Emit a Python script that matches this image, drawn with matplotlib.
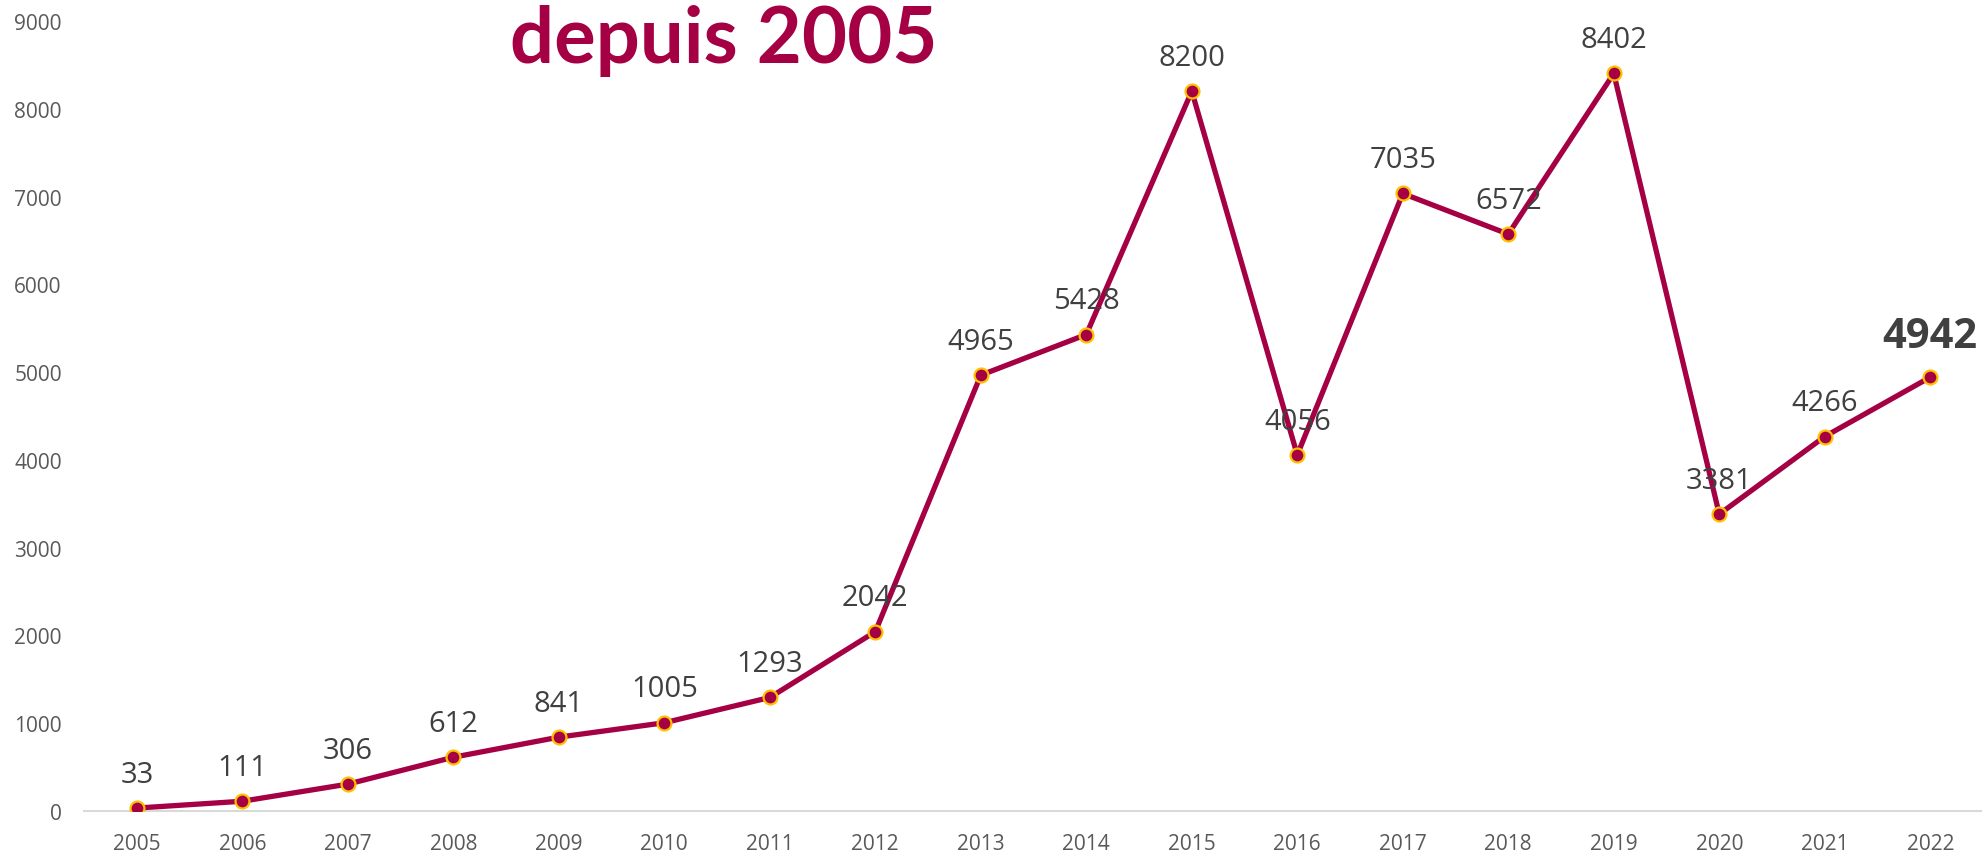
import matplotlib
matplotlib.use("Agg")
import matplotlib.pyplot as plt

years = ["2005", "2006", "2007", "2008", "2009", "2010", "2011", "2012", "2013",
         "2014", "2015", "2016", "2017", "2018", "2019", "2020", "2021", "2022"]
values = [33, 111, 306, 612, 841, 1005, 1293, 2042, 4965,
          5428, 8200, 4056, 7035, 6572, 8402, 3381, 4266, 4942]
y_ticks = [0, 1000, 2000, 3000, 4000, 5000, 6000, 7000, 8000, 9000]
title_text = "depuis 2005"

LINE = "#A50044"
EDGE = "#FFC000"

plt.rcParams['font.family'] = ['Open Sans', 'DejaVu Sans']

fig = plt.figure(figsize=(19.83, 8.53), dpi=100)
ax = fig.add_axes([0.0424, 0.0481, 0.9576, 0.9261])

x = list(range(len(years)))
ax.plot(x, values, color=LINE, lw=3.8, marker='o', markersize=10,
        markerfacecolor=LINE, markeredgecolor=EDGE, markeredgewidth=1.6,
        solid_joinstyle='miter', zorder=3)

for i, v in enumerate(values):
    if i == len(values) - 1:
        ax.annotate(str(v), (i, v), xytext=(0, 22), textcoords='offset points',
                    ha='center', va='baseline', fontsize=30, fontweight='bold',
                    color='#404040', zorder=4)
    else:
        ax.annotate(str(v), (i, v), xytext=(0, 19), textcoords='offset points',
                    ha='center', va='baseline', fontsize=21,
                    color='#404040', zorder=4)

ax.set_xlim(-0.5, len(years) - 0.5)
ax.set_ylim(0, 9000)
ax.set_xticks(x)
ax.set_xticklabels(years)
ax.set_yticks(y_ticks)
ax.set_yticklabels([str(t) for t in y_ticks])
ax.tick_params(axis='both', length=0, labelsize=15, labelcolor='#595959')
ax.tick_params(axis='y', pad=16)
ax.tick_params(axis='x', pad=16)

for s in ['top', 'right', 'left']:
    ax.spines[s].set_visible(False)
ax.spines['bottom'].set_color('#D9D9D9')
ax.spines['bottom'].set_linewidth(1.5)
ax.patch.set_alpha(0)

fig.text(0.365, 0.926, title_text, ha='center', va='baseline',
         fontsize=56, fontweight='bold', color=LINE, family=['Lato', 'DejaVu Sans'])

fig.savefig("out.png", dpi=100)
